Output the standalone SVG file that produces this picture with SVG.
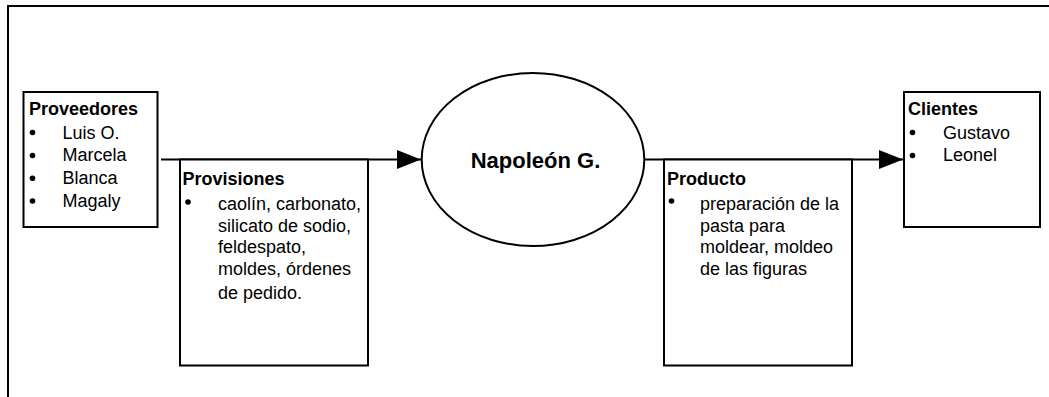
<svg xmlns="http://www.w3.org/2000/svg" width="1049" height="397" viewBox="0 0 1049 397">
  <style>
    .box { fill: #ffffff; stroke: #000000; stroke-width: 2; }
    .frame { fill: none; stroke: #000000; stroke-width: 2; }
    .flow { fill: none; stroke: #000000; stroke-width: 2; }
    text { font-family: "Liberation Sans", Arial, sans-serif; fill: #000000; }
    .head { font-size: 18px; font-weight: bold; }
    .item { font-size: 18px; }
    .title { font-size: 22px; font-weight: bold; }
    .dot { fill: #000000; }
  </style>
  <defs>
    <marker id="arrow" markerUnits="userSpaceOnUse" markerWidth="25" markerHeight="20" refX="24" refY="9.5" orient="auto">
      <path d="M0,0 L24,9.5 L0,19 Z" fill="#000000"/>
    </marker>
  </defs>

  <rect width="1049" height="397" fill="#ffffff"/>

  <!-- outer frame: top and left edges -->
  <path class="frame" d="M8,397 L8,6 L1049,6"/>

  <!-- flow lines -->
  <g id="connectors">
    <path class="flow" d="M161,159.5 L421,159.5" marker-end="url(#arrow)"/>
    <path class="flow" d="M645,159.5 L903,159.5" marker-end="url(#arrow)"/>
  </g>

  <g id="proveedores">
    <rect class="box" x="23.5" y="92" width="134" height="135"/>
    <text class="head" x="29" y="115">Proveedores</text>
    <circle class="dot" cx="32.5" cy="132.5" r="2.8"/>
    <text class="item" x="62.5" y="138.5">Luis O.</text>
    <circle class="dot" cx="32.5" cy="155.5" r="2.8"/>
    <text class="item" x="62.5" y="161.3">Marcela</text>
    <circle class="dot" cx="32.5" cy="178.3" r="2.8"/>
    <text class="item" x="62.5" y="184">Blanca</text>
    <circle class="dot" cx="32.5" cy="201" r="2.8"/>
    <text class="item" x="62.5" y="206.7">Magaly</text>
  </g>

  <g id="provisiones">
    <rect class="box" x="180" y="159.5" width="188" height="206"/>
    <text class="head" x="182.5" y="184.5">Provisiones</text>
    <circle class="dot" cx="188" cy="202" r="2.8"/>
    <text class="item" x="218" y="209.5">caolín, carbonato,</text>
    <text class="item" x="218" y="231.5">silicato de sodio,</text>
    <text class="item" x="218" y="253">feldespato,</text>
    <text class="item" x="218" y="275">moldes, órdenes</text>
    <text class="item" x="218" y="298.5">de pedido.</text>
  </g>

  <g id="napoleon">
    <ellipse class="box" cx="533" cy="159.5" rx="111.3" ry="86.5"/>
    <text class="title" x="535.5" y="167.5" text-anchor="middle">Napoleón G.</text>
  </g>

  <g id="producto">
    <rect class="box" x="664" y="159.5" width="188" height="206"/>
    <text class="head" x="667" y="184.5">Producto</text>
    <circle class="dot" cx="671.5" cy="201" r="2.8"/>
    <text class="item" x="700" y="209.5">preparación de la</text>
    <text class="item" x="700" y="231.5">pasta para</text>
    <text class="item" x="700" y="253">moldear, moldeo</text>
    <text class="item" x="700" y="275">de las figuras</text>
  </g>

  <g id="clientes">
    <rect class="box" x="904" y="92" width="136" height="135"/>
    <text class="head" x="908" y="115">Clientes</text>
    <circle class="dot" cx="912.5" cy="132.5" r="2.8"/>
    <text class="item" x="943" y="138.5">Gustavo</text>
    <circle class="dot" cx="912.5" cy="155.5" r="2.8"/>
    <text class="item" x="943" y="161.3">Leonel</text>
  </g>
</svg>
